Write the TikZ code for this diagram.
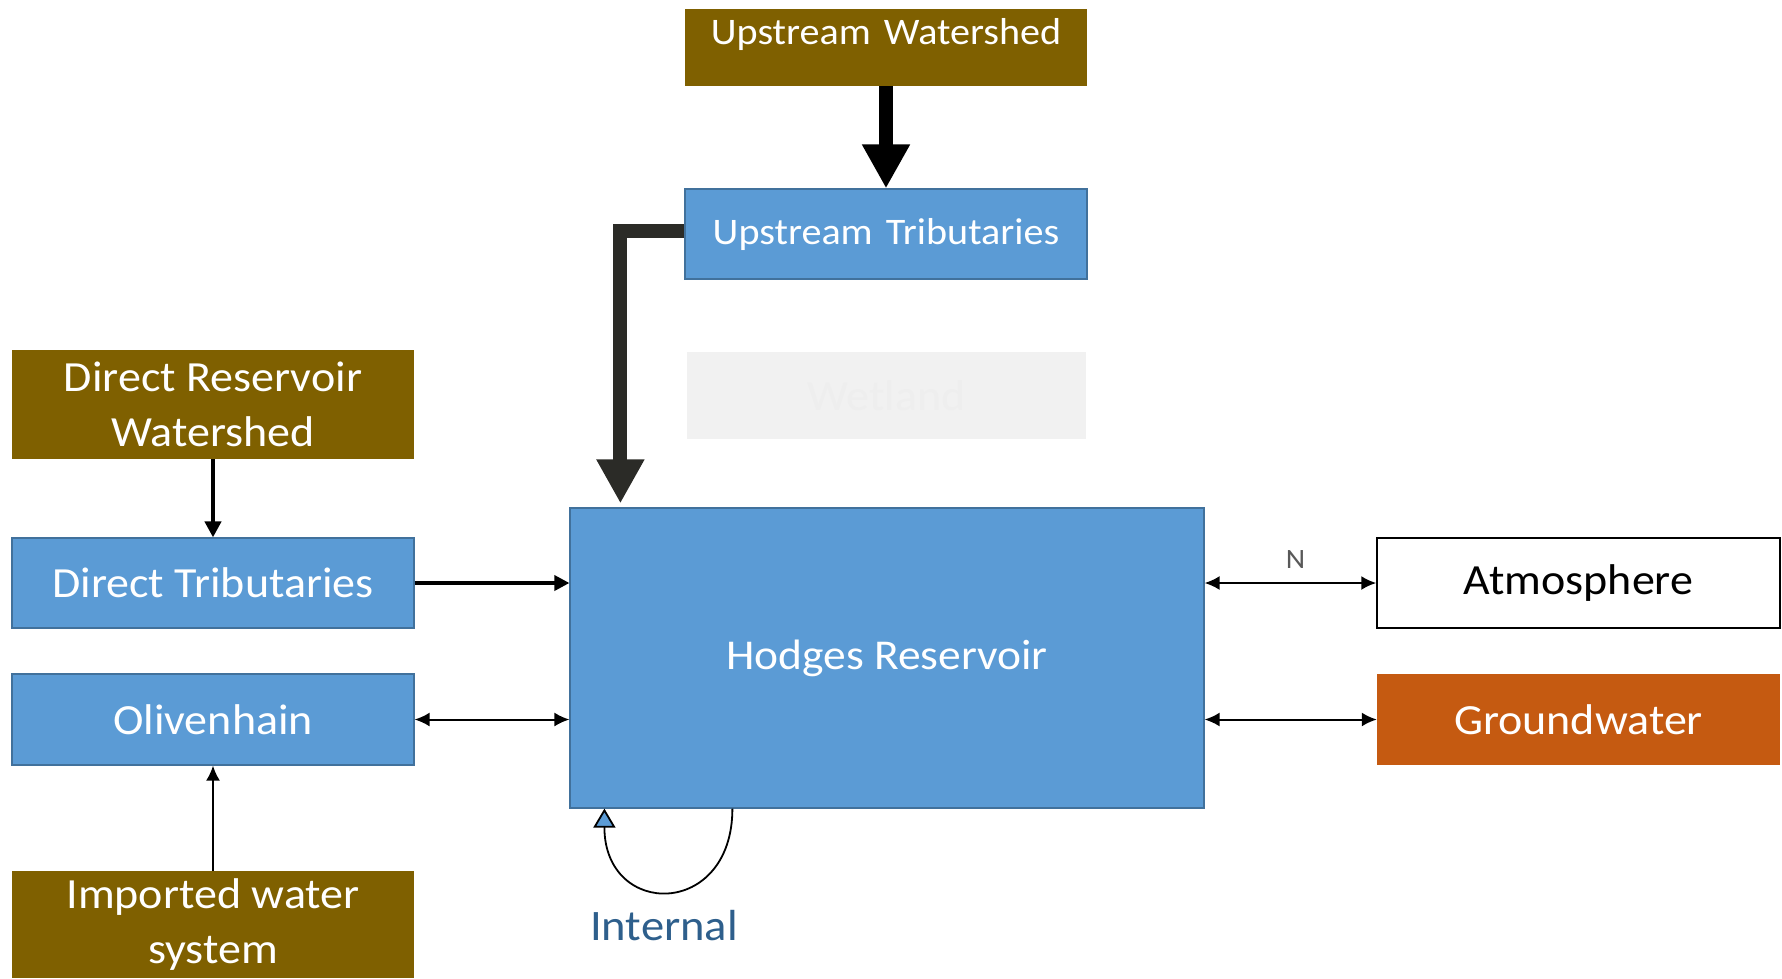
\documentclass[tikz,border=0pt]{standalone}
\usepackage{fontspec}
\setmainfont{Carlito}[FakeStretch=1.07]
\usetikzlibrary{arrows.meta,calc}

\definecolor{soil}{HTML}{7F6000}
\definecolor{water}{HTML}{5B9BD5}
\definecolor{waterline}{HTML}{41719C}
\definecolor{ground}{HTML}{C55A11}
\definecolor{internaltext}{HTML}{2E5F8C}
\definecolor{darkpipe}{HTML}{2B2B27}
\definecolor{wetfill}{HTML}{F1F1F1}
\definecolor{wettext}{HTML}{EEEEEE}

\begin{document}
\begin{tikzpicture}[x=1pt,y=-1pt,
  box/.style={inner sep=0pt, minimum width=402pt, align=center},
  bigtext/.style={font=\fontsize{43}{55}\selectfont},
  midtext/.style={font=\fontsize{37.5}{47}\selectfont},
  soilbox/.style={box, fill=soil, text=white},
  waterbox/.style={box, fill=water, draw=waterline, line width=1.2pt, text=white},
  bigflow/.style={line width=14pt, -{Triangle[width=45pt,length=44pt]}},
  feed/.style={line width=4pt, -{Triangle[width=16pt,length=16pt]}},
  exchange/.style={line width=2pt, {Latex[width=14pt,length=15pt]}-{Latex[width=14pt,length=15pt]}},
  supply/.style={line width=2pt, -{Latex[width=14pt,length=15pt]}}
]
\useasboundingbox (0,0) rectangle (1782,978);

% upstream chain
\node[soilbox, midtext, minimum height=77pt, text height=26pt, text depth=33pt]
  (uw) at (886,47.5) {Upstream\hspace{4pt} Watershed};
\node[waterbox, midtext, minimum height=90pt]
  (ut) at (886,234) {Upstream\hspace{4pt} Tributaries};
\node[box, bigtext, fill=wetfill, text=wettext, minimum width=399pt, minimum height=87pt]
  (wl) at (886.5,395.5) {Wetland};

% left column
\node[soilbox, bigtext, minimum height=109pt]
  (drw) at (213,404.5) {Direct Reservoir\\Watershed};
\node[waterbox, bigtext, minimum height=90pt]
  (dt) at (213,583) {Direct Tributaries};
\node[waterbox, bigtext, minimum height=91pt]
  (ol) at (213,719.5) {Olivenhain};
\node[soilbox, bigtext, minimum height=107pt]
  (iw) at (213,924.5) {Imported water\\system};

% reservoir
\node[waterbox, font=\fontsize{42.5}{50}\selectfont, minimum width=634pt, minimum height=300pt]
  (hr) at (887,658) {Hodges Reservoir};

% right column
\node[box, bigtext, draw=black, line width=1.5pt, minimum width=403pt, minimum height=90pt]
  (atm) at (1578.5,583) {Atmosphere};
\node[box, bigtext, fill=ground, text=white, minimum width=403pt, minimum height=91pt]
  (gw) at (1578.5,719.5) {Groundwater};

% connectors
\draw[bigflow] (uw.south) -- (ut.north);
\coordinate (tipA) at ($(hr.north west)+(51,-4)$);
\draw[bigflow, darkpipe, line join=miter] ([yshift=3pt]ut.west) -| (tipA);

\draw[feed] (drw.south) -- (dt.north);
\draw[line width=3.5pt, -{Triangle[width=15pt,length=15pt]}] (dt.east) -- (dt.east -| hr.west);
\draw[exchange] (ol.east) -- (ol.east -| hr.west);
\draw[supply] (iw.north) -- (ol.south);

\draw[exchange] (atm.west -| hr.east) -- node[above=10pt, xshift=5pt, font=\fontsize{28}{30}\selectfont, text=black!65] (n) {N} (atm.west);
\draw[exchange] (gw.west -| hr.east) -- (gw.west);

% internal cycling loop
\draw[line width=1.8pt, -{Triangle[width=22pt,length=19pt,fill=water]}]
  ([xshift=163pt]hr.south west) .. controls +(0,110) and +(0,110) .. ([xshift=35pt]hr.south west);
\node[font=\fontsize{43.5}{50}\selectfont, text=internaltext] (it) at (664,926) {Internal};
\end{tikzpicture}
\end{document}
